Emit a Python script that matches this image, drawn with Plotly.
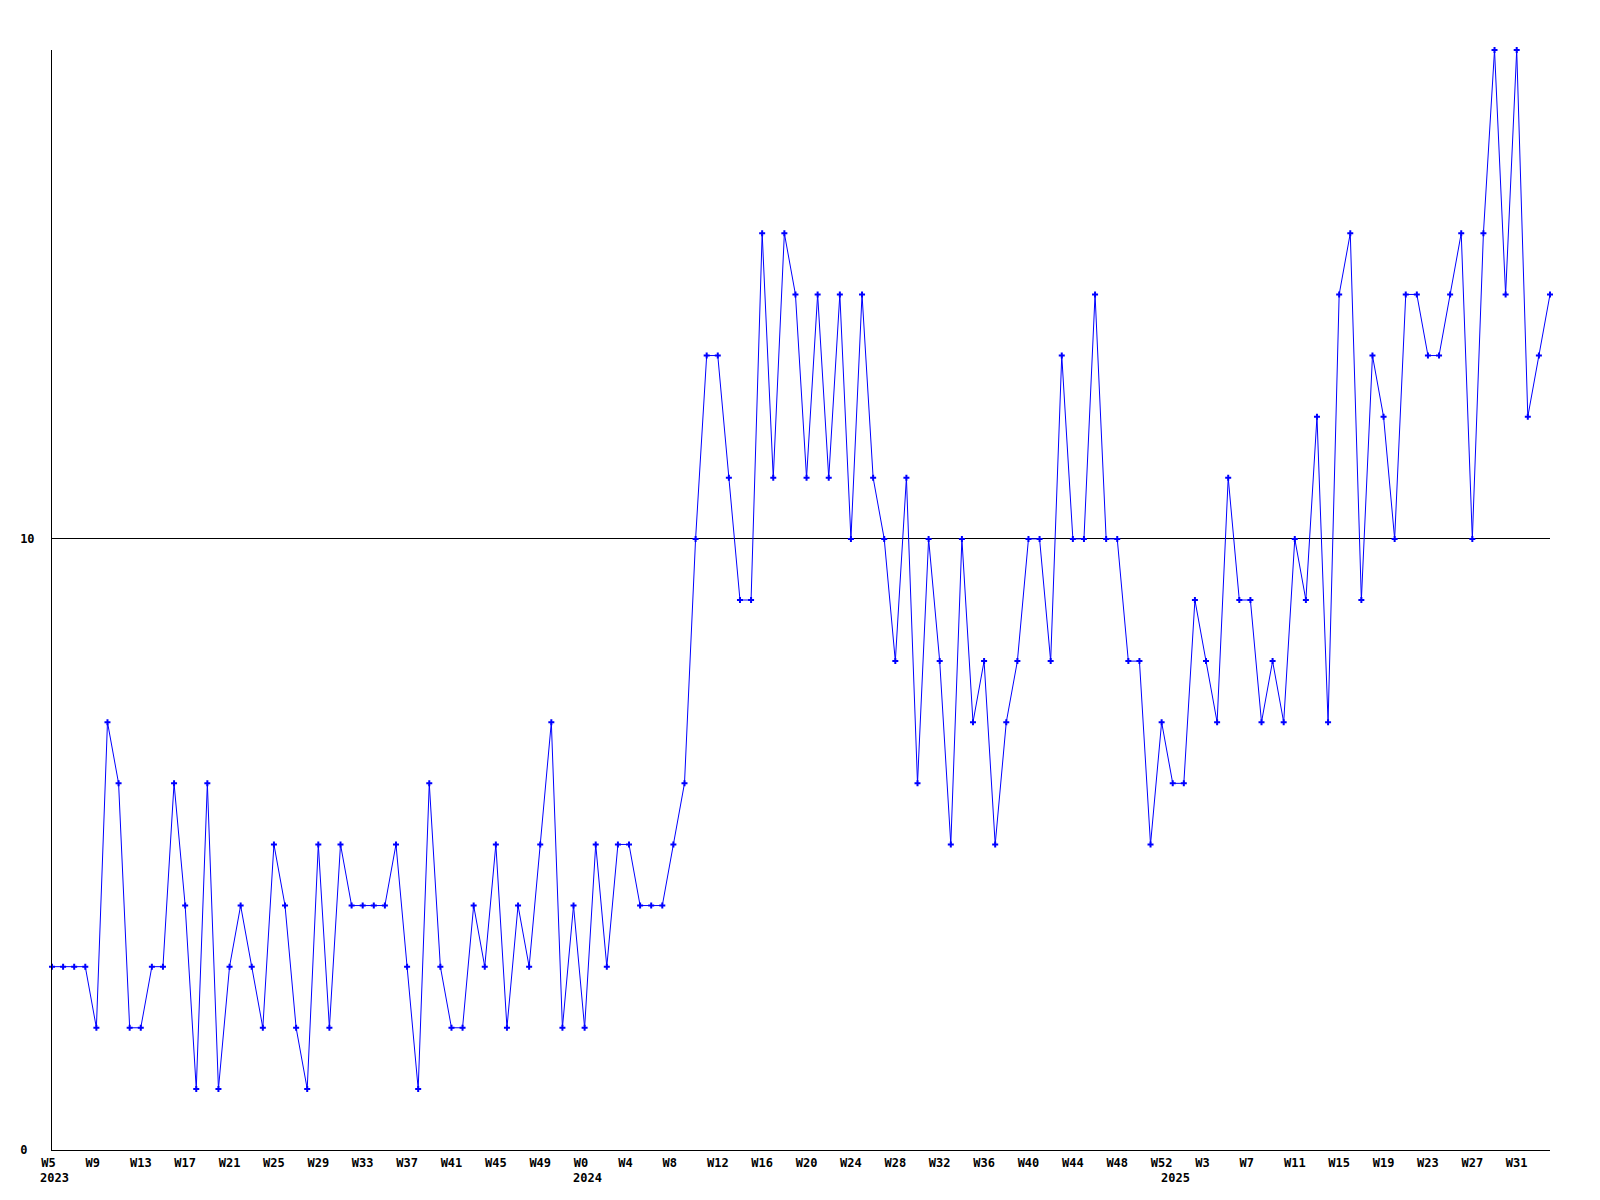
import plotly.graph_objects as go

# Weekly values, 2023 W5 .. 2025 W34
values = [
    3, 3, 3, 3, 2, 7, 6, 2, 2, 3, 3, 6, 4, 1, 6, 1, 3, 4, 3, 2,
    5, 4, 2, 1, 5, 2, 5, 4, 4, 4, 4, 5, 3, 1, 6, 3, 2, 2, 4, 3,
    5, 2, 4, 3, 5, 7,
    2, 4, 2, 5, 3, 5, 5, 4, 4, 4,
    5, 6, 10, 13, 13, 11, 9, 9, 15, 11,
    15, 14, 11, 14, 11, 14, 10, 14, 11, 10,
    8, 11, 6, 10, 8, 5, 10, 7, 8, 5,
    7, 8, 10, 10, 8, 13, 10, 10, 14, 10,
    10, 8, 8, 5, 7, 6, 6, 9, 8, 7,
    11, 9, 9, 7, 8, 7, 10, 9, 12, 7,
    14, 15, 9, 13, 12, 10, 14, 14, 13, 13,
    14, 15, 10, 15, 18, 14, 18, 12, 13, 14,
]

tick_labels = [
    "W5", "W9", "W13", "W17", "W21", "W25", "W29", "W33", "W37", "W41", "W45", "W49",
    "W0", "W4", "W8", "W12", "W16", "W20", "W24", "W28", "W32", "W36", "W40", "W44", "W48", "W52",
    "W3", "W7", "W11", "W15", "W19", "W23", "W27", "W31",
]
year_labels = ["2023", "2024", "2025"]
year_start_week = [0, 48, 101]  # index of the first week of each year in `values`

y_ticks = [0, 10]
y_tick_labels = ["0\u00a0", "10"]

x = list(range(len(values)))
tick_vals = [i * 4 for i in range(len(tick_labels))]
# pad to fixed width so that centred monospace labels start at the same offset
tick_text = [t + "\u00a0" * (3 - len(t)) for t in tick_labels]

FONT = "DejaVu Sans Mono"

fig = go.Figure()
fig.add_trace(go.Scatter(
    x=x, y=values, mode="lines+markers",
    line=dict(color="#0000ff", width=1),
    marker=dict(symbol="cross", size=5, color="#0000ff", line=dict(width=0)),
    cliponaxis=False,
    showlegend=False,
))

for yr, wi in zip(year_labels, year_start_week):
    fig.add_annotation(
        x=wi, xref="x", y=0, yref="paper",
        text=yr, showarrow=False, xanchor="left", yanchor="top",
        xshift=-14, yshift=-19,
        font=dict(family=FONT, size=12, color="black", weight="bold"),
    )

fig.update_layout(
    width=1600, height=1200,
    margin=dict(l=42, r=58, t=42, b=58),
    paper_bgcolor="white", plot_bgcolor="white",
    xaxis=dict(
        range=[0, len(values) - 1],
        tickmode="array", tickvals=tick_vals, ticktext=tick_text,
        showgrid=False, zeroline=False,
        showline=True, linecolor="black", linewidth=1,
        ticks="", ticklabelstandoff=2,
        tickfont=dict(family=FONT, size=12, color="black", weight="bold"),
    ),
    yaxis=dict(
        range=[0, 18],
        tickmode="array", tickvals=y_ticks, ticktext=y_tick_labels,
        showgrid=True, gridcolor="black", gridwidth=1,
        zeroline=False,
        showline=True, linecolor="black", linewidth=1,
        ticks="", ticklabelstandoff=14,
        tickfont=dict(family=FONT, size=12, color="black", weight="bold"),
    ),
)

fig.write_html("out.html")
